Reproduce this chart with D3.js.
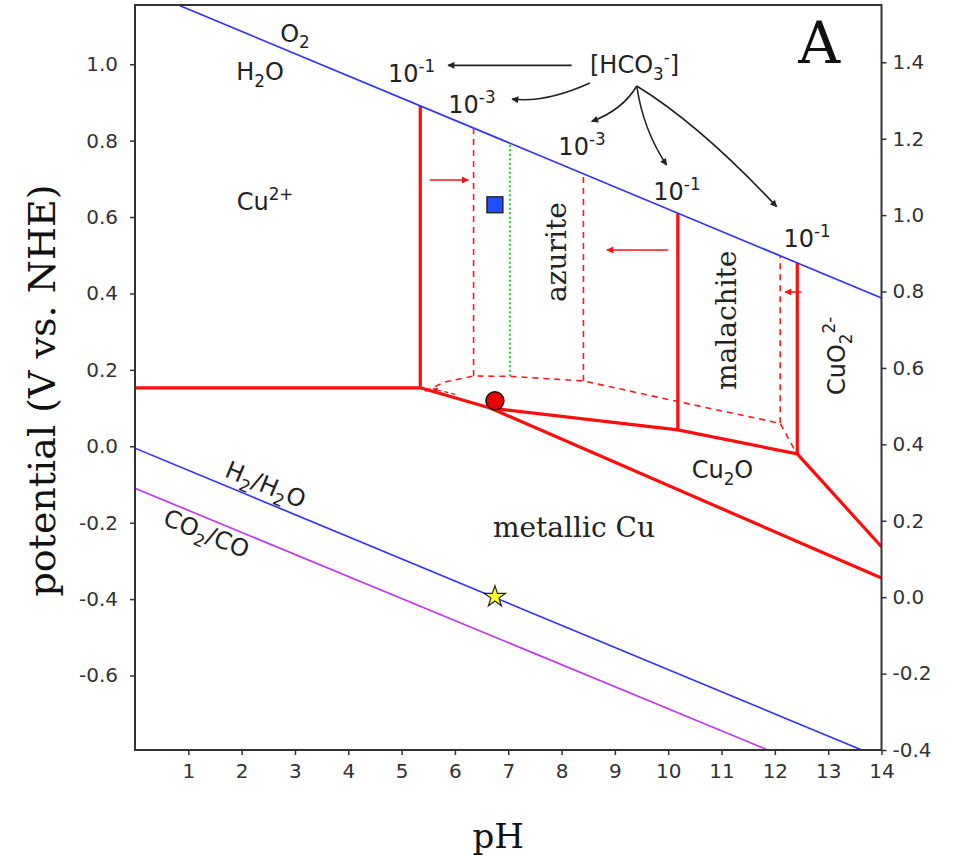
<!DOCTYPE html>
<html>
<head>
<meta charset="utf-8">
<script src="https://cdn.jsdelivr.net/npm/d3@7"></script>
<style>
  body { margin: 0; background: #fff; }
</style>
</head>
<body>
<div id="chart"></div>
<script>
// ---- data (pH, potential V vs NHE) ----
const phTicks = [1, 2, 3, 4, 5, 6, 7, 8, 9, 10, 11, 12, 13, 14];
const nheTicks = [-0.6, -0.4, -0.2, 0.0, 0.2, 0.4, 0.6, 0.8, 1.0];
const rheTicks = [-0.4, -0.2, 0.0, 0.2, 0.4, 0.6, 0.8, 1.0, 1.2, 1.4];
const rheShift = 0.395; // right axis = left axis + shift (pH 6.8)

// water / CO2 redox lines
const o2Line = [[0.81, 1.155], [14, 0.388]];
const h2Line = [[0, -0.005], [13.63, -0.795]];
const co2Line = [[0, -0.11], [11.87, -0.795]];

// solid boundaries, [HCO3-] = 10^-1
const cuIILine = [[0, 0.153], [5.35, 0.153]];
const cuMetalLine = [[5.35, 0.153], [6.66, 0.100], [14, -0.345]];
const cu2oUpperLine = [[6.66, 0.100], [10.18, 0.043], [12.42, -0.020]];
const cuo2LowerLine = [[12.42, -0.020], [14, -0.263]];
const solidVerticals = [
  [[5.35, 0.153], [5.35, 0.891]],
  [[10.18, 0.043], [10.18, 0.610]],
  [[12.42, -0.020], [12.42, 0.480]]
];

// dashed boundaries, [HCO3-] = 10^-3
const dashedBoundary = [[5.44, 0.144], [5.81, 0.168], [6.35, 0.184], [7.03, 0.183],
  [8.41, 0.171], [10.18, 0.117], [12.10, 0.060], [12.38, -0.012]];
const dashedPh = [6.35, 8.41, 12.10];
const dashedBottom = [0.184, 0.171, 0.060];
const dashedTop = [0.833, 0.713, 0.498];
const greenLine = [[7.03, 0.183], [7.03, 0.793]];

// red shift arrows (from, to)
const redArrows = [
  [[5.53, 0.697], [6.25, 0.697]],
  [[10.0, 0.514], [8.85, 0.514]],
  [[12.49, 0.404], [12.19, 0.404]]
];
const smallArrow = [[6.0, 0.136], [5.59, 0.150]];

// black [HCO3-] pointers: start, control, end
const hco3Arrows = [
  [[8.19, 0.997], [7.0, 0.997], [5.87, 0.997]],
  [[8.53, 0.951], [7.69, 0.898], [7.07, 0.909]],
  [[9.41, 0.943], [9.15, 0.881], [8.565, 0.850]],
  [[9.41, 0.943], [9.53, 0.828], [9.97, 0.736]],
  [[9.41, 0.943], [10.6, 0.841], [12.035, 0.627]]
];

// experiment markers
const squarePoint = [6.75, 0.632];
const circlePoint = [6.75, 0.119];
const starPoint = [6.75, -0.394];

// ---- drawing ----
const W = 964, H = 856;
const sans = "DejaVu Sans", serif = "DejaVu Serif";

const x = d3.scaleLinear().domain([0, 14]).range([135, 881.5]);
const y = d3.scaleLinear().domain([-0.795, 1.155]).range([750, 5]);
const yR = d3.scaleLinear().domain([-0.795 + rheShift, 1.155 + rheShift]).range([750, 5]);

const svg = d3.select("#chart").append("svg")
  .attr("width", W).attr("height", H);
svg.append("rect").attr("width", W).attr("height", H).attr("fill", "#fff");

const defs = svg.append("defs");
defs.append("clipPath").attr("id", "plot-clip")
  .append("rect")
  .attr("x", x(0)).attr("y", y(1.155))
  .attr("width", x(14) - x(0)).attr("height", y(-0.795) - y(1.155));

function addHead(id, color, w, h) {
  defs.append("marker")
    .attr("id", id)
    .attr("viewBox", "0 0 10 10")
    .attr("refX", 9).attr("refY", 5)
    .attr("markerUnits", "userSpaceOnUse")
    .attr("markerWidth", w).attr("markerHeight", h)
    .attr("orient", "auto")
    .append("path").attr("d", "M0,0 L10,5 L0,10 z").attr("fill", color);
}
addHead("red-head", "#ff1010", 9, 7);
addHead("small-head", "#ff1010", 6, 5);
addHead("black-head", "#222", 10, 7);

const line = d3.line().x(d => x(d[0])).y(d => y(d[1]));
const plot = svg.append("g").attr("clip-path", "url(#plot-clip)");

// dashed 10^-3 boundaries
plot.append("path").datum(dashedBoundary)
  .attr("d", line).attr("fill", "none")
  .attr("stroke", "#ff1a1a").attr("stroke-width", 1.6)
  .attr("stroke-dasharray", "6,5");
dashedPh.forEach((ph, i) => {
  plot.append("path").datum([[ph, dashedBottom[i]], [ph, dashedTop[i]]])
    .attr("d", line).attr("fill", "none")
    .attr("stroke", "#ff1a1a").attr("stroke-width", 1.6)
    .attr("stroke-dasharray", "6,5");
});
plot.append("path").datum(greenLine)
  .attr("d", line).attr("fill", "none")
  .attr("stroke", "#22cc22").attr("stroke-width", 2)
  .attr("stroke-dasharray", "2,2.5");

// solid 10^-1 boundaries
[cuIILine, cuMetalLine, cu2oUpperLine, cuo2LowerLine, ...solidVerticals].forEach(seg => {
  plot.append("path").datum(seg)
    .attr("d", line).attr("fill", "none")
    .attr("stroke", "#ff0d0d").attr("stroke-width", 3.2)
    .attr("stroke-linejoin", "round");
});

// water and CO2 lines
plot.append("path").datum(o2Line).attr("d", line)
  .attr("fill", "none").attr("stroke", "#3333ff").attr("stroke-width", 1.7);
plot.append("path").datum(h2Line).attr("d", line)
  .attr("fill", "none").attr("stroke", "#3333ff").attr("stroke-width", 1.7);
plot.append("path").datum(co2Line).attr("d", line)
  .attr("fill", "none").attr("stroke", "#c03cf0").attr("stroke-width", 1.7);

// red shift arrows
redArrows.forEach(a => {
  plot.append("path").datum(a).attr("d", line)
    .attr("fill", "none").attr("stroke", "#ff1010").attr("stroke-width", 1.5)
    .attr("marker-end", "url(#red-head)");
});
plot.append("path").datum(smallArrow).attr("d", line)
  .attr("fill", "none").attr("stroke", "#ff1010").attr("stroke-width", 1.2)
  .attr("stroke-dasharray", "4,3")
  .attr("marker-end", "url(#small-head)");

// black pointers from [HCO3-]
hco3Arrows.forEach(([s, c, e]) => {
  const p = d3.path();
  p.moveTo(x(s[0]), y(s[1]));
  p.quadraticCurveTo(x(c[0]), y(c[1]), x(e[0]), y(e[1]));
  svg.append("path").attr("d", p.toString())
    .attr("fill", "none").attr("stroke", "#222").attr("stroke-width", 1.6)
    .attr("marker-end", "url(#black-head)");
});

// markers
svg.append("rect")
  .attr("x", x(squarePoint[0]) - 8).attr("y", y(squarePoint[1]) - 8)
  .attr("width", 16).attr("height", 16)
  .attr("fill", "#1f4dff").attr("stroke", "#111").attr("stroke-width", 1.2);
svg.append("circle")
  .attr("cx", x(circlePoint[0])).attr("cy", y(circlePoint[1])).attr("r", 9)
  .attr("fill", "#ee0000").attr("stroke", "#111").attr("stroke-width", 1.5);
svg.append("path")
  .attr("d", d3.symbol(d3.symbolStar).size(140)())
  .attr("transform", `translate(${x(starPoint[0])},${y(starPoint[1])})`)
  .attr("fill", "#ffff33").attr("stroke", "#222").attr("stroke-width", 1.2);

// text helper with sub/superscripts
function label(parts, ph, e, o = {}) {
  const size = o.size || 24;
  const t = svg.append("text")
    .attr("transform", `translate(${x(ph)},${y(e)}) rotate(${o.rotate || 0})`)
    .attr("font-family", o.family || sans)
    .attr("font-size", size)
    .attr("text-anchor", o.anchor || "start")
    .attr("fill", o.color || "#222");
  let cur = 0;
  parts.forEach(p => {
    let txt = p, off = 0, fs = size;
    if (typeof p === "object") {
      txt = p.sub !== undefined ? p.sub : p.sup;
      off = p.sub !== undefined ? size * 0.28 : -size * 0.42;
      fs = size * 0.7;
    }
    t.append("tspan").attr("dy", off - cur).attr("font-size", fs).text(txt);
    cur = off;
  });
  return t;
}
function angleOf(seg) {
  const [a, b] = seg;
  return Math.atan2(y(b[1]) - y(a[1]), x(b[0]) - x(a[0])) * 180 / Math.PI;
}

label(["O", {sub: "2"}], 3.0, 1.059, {anchor: "middle"});
label(["H", {sub: "2"}, "O"], 2.345, 0.959, {anchor: "middle"});
label(["Cu", {sup: "2+"}], 1.907, 0.618);
label(["10", {sup: "-1"}], 4.745, 0.954);
label(["10", {sup: "-3"}], 5.876, 0.872);
label(["10", {sup: "-3"}], 7.94, 0.7626);
label(["10", {sup: "-1"}], 9.72, 0.645);
label(["10", {sup: "-1"}], 12.16, 0.5225);
label(["[HCO", {sub: "3"}, {sup: "-"}, "]"], 8.533, 0.976);
label(["Cu", {sub: "2"}, "O"], 10.44, -0.0838);
label(["CuO", {sub: "2"}, {sup: "2-"}], 13.316, 0.134, {rotate: -90});
label(["H", {sub: "2"}, "/H", {sub: "2"}, "O"], 1.66, -0.078, {rotate: angleOf(h2Line)});
label(["CO", {sub: "2"}, "/CO"], 0.50, -0.2034, {rotate: angleOf(co2Line)});
label(["azurite"], 8.083, 0.3778, {rotate: -90, family: serif, size: 28});
label(["malachite"], 11.27, 0.1474, {rotate: -90, family: serif, size: 28});
label(["metallic Cu"], 6.714, -0.2374, {family: serif, size: 28});
label(["A"], 12.44, 1.0026, {family: serif, size: 58, color: "#111"});

// frame
svg.append("rect")
  .attr("x", x(0)).attr("y", y(1.155))
  .attr("width", x(14) - x(0)).attr("height", y(-0.795) - y(1.155))
  .attr("fill", "none").attr("stroke", "#333").attr("stroke-width", 2);

// axes
const fmt = d => (Math.abs(d) < 1e-9 ? 0 : d).toFixed(1);
function styleAxis(g) {
  g.attr("font-size", null).attr("font-family", null);
  g.select(".domain").remove();
  g.selectAll(".tick line").attr("stroke", "#333").attr("stroke-width", 1.5);
  g.selectAll(".tick text")
    .style("fill", "#333")
    .style("font-family", sans)
    .style("font-size", "20px");
}
svg.append("g").attr("transform", `translate(0,${y(-0.795)})`)
  .call(d3.axisBottom(x).tickValues(phTicks).tickSize(5).tickPadding(9))
  .call(styleAxis);
svg.append("g").attr("transform", `translate(${x(0)},0)`)
  .call(d3.axisLeft(y).tickValues(nheTicks).tickFormat(fmt).tickSize(5).tickPadding(12))
  .call(styleAxis);
svg.append("g").attr("transform", `translate(${x(14)},0)`)
  .call(d3.axisRight(yR).tickValues(rheTicks).tickFormat(fmt).tickSize(5).tickPadding(6))
  .call(styleAxis);

// axis titles
svg.append("text")
  .attr("transform", `translate(55,${(y(-0.795) + y(1.155)) / 2 + 13}) rotate(-90)`)
  .attr("text-anchor", "middle")
  .attr("font-family", serif).attr("font-size", 38).attr("fill", "#111")
  .text("potential (V vs. NHE)");
svg.append("text")
  .attr("x", (x(0) + x(14)) / 2 - 10).attr("y", 848)
  .attr("text-anchor", "middle")
  .attr("font-family", serif).attr("font-size", 34).attr("fill", "#111")
  .text("pH");
</script>
</body>
</html>
